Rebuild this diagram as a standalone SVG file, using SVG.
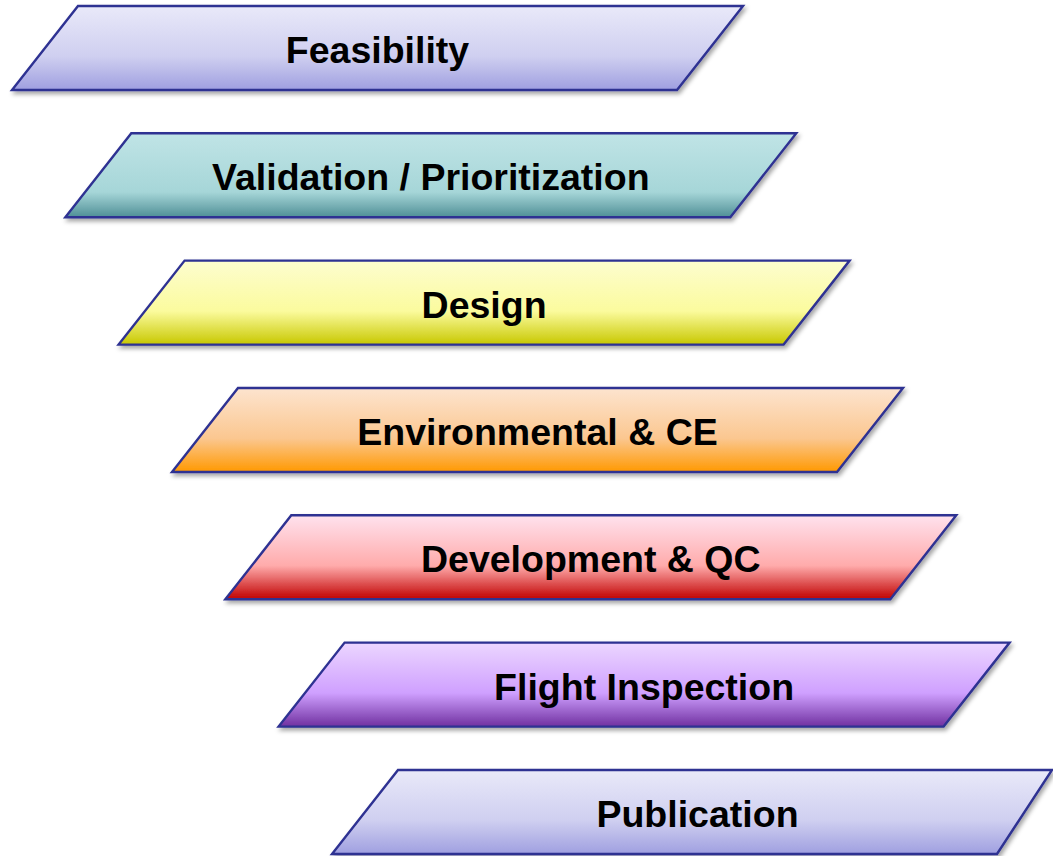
<svg xmlns="http://www.w3.org/2000/svg" width="1053" height="856" viewBox="0 0 1053 856">
<defs>
<filter id="sh" x="-5%" y="-10%" width="115%" height="130%">
<feDropShadow dx="2" dy="3" stdDeviation="2" flood-color="#000" flood-opacity="0.35"/>
</filter>
<linearGradient id="gLav" x1="0" y1="0" x2="0" y2="1">
<stop offset="0" stop-color="#e9e9f9"/><stop offset="0.6" stop-color="#cfcff0"/><stop offset="1" stop-color="#9f9fe0"/>
</linearGradient>
<linearGradient id="gTeal" x1="0" y1="0" x2="0" y2="1">
<stop offset="0" stop-color="#c0e4e6"/><stop offset="0.7" stop-color="#a6d6d8"/><stop offset="1" stop-color="#4f8f96"/>
</linearGradient>
<linearGradient id="gYel" x1="0" y1="0" x2="0" y2="1">
<stop offset="0" stop-color="#fdfdcf"/><stop offset="0.6" stop-color="#fbfb9e"/><stop offset="1" stop-color="#c8c800"/>
</linearGradient>
<linearGradient id="gOr" x1="0" y1="0" x2="0" y2="1">
<stop offset="0" stop-color="#fde4cf"/><stop offset="0.6" stop-color="#fbc790"/><stop offset="1" stop-color="#ff9900"/>
</linearGradient>
<linearGradient id="gRed" x1="0" y1="0" x2="0" y2="1">
<stop offset="0" stop-color="#ffe2ee"/><stop offset="0.6" stop-color="#ffabab"/><stop offset="1" stop-color="#c00000"/>
</linearGradient>
<linearGradient id="gPur" x1="0" y1="0" x2="0" y2="1">
<stop offset="0" stop-color="#ecd6ff"/><stop offset="0.6" stop-color="#cfa0ff"/><stop offset="1" stop-color="#7030a0"/>
</linearGradient>
</defs>
<style>
.s{stroke:#2e3192;stroke-width:2.4;filter:url(#sh);}
.t{font-family:"Liberation Sans",Arial,sans-serif;font-weight:bold;font-size:37.5px;fill:#000;text-anchor:middle;}
</style>
<g id="feasibility">
<polygon class="s" fill="url(#gLav)" points="78,6 743,6 677,90 12,90"/>
<text class="t" x="377.5" y="63">Feasibility</text>
</g>
<g id="validation">
<polygon class="s" fill="url(#gTeal)" points="131.3,133.3 796.3,133.3 730.3,217.3 65.3,217.3"/>
<text class="t" x="430.8" y="190.3">Validation / Prioritization</text>
</g>
<g id="design">
<polygon class="s" fill="url(#gYel)" points="184.6,260.6 849.6,260.6 783.6,344.6 118.6,344.6"/>
<text class="t" x="484.1" y="317.6">Design</text>
</g>
<g id="environmental">
<polygon class="s" fill="url(#gOr)" points="238,388 903,388 837,472 172,472"/>
<text class="t" x="537.5" y="445">Environmental &amp; CE</text>
</g>
<g id="development">
<polygon class="s" fill="url(#gRed)" points="291.3,515.3 956.3,515.3 890.3,599.3 225.3,599.3"/>
<text class="t" x="590.8" y="572.3">Development &amp; QC</text>
</g>
<g id="flight">
<polygon class="s" fill="url(#gPur)" points="344.6,642.6 1009.6,642.6 943.6,726.6 278.6,726.6"/>
<text class="t" x="644.1" y="699.6">Flight Inspection</text>
</g>
<g id="publication">
<polygon class="s" fill="url(#gLav)" points="398,770 1052,770 997,854 332,854"/>
<text class="t" x="697.5" y="827">Publication</text>
</g>
<g id="connectors"></g>
</svg>
